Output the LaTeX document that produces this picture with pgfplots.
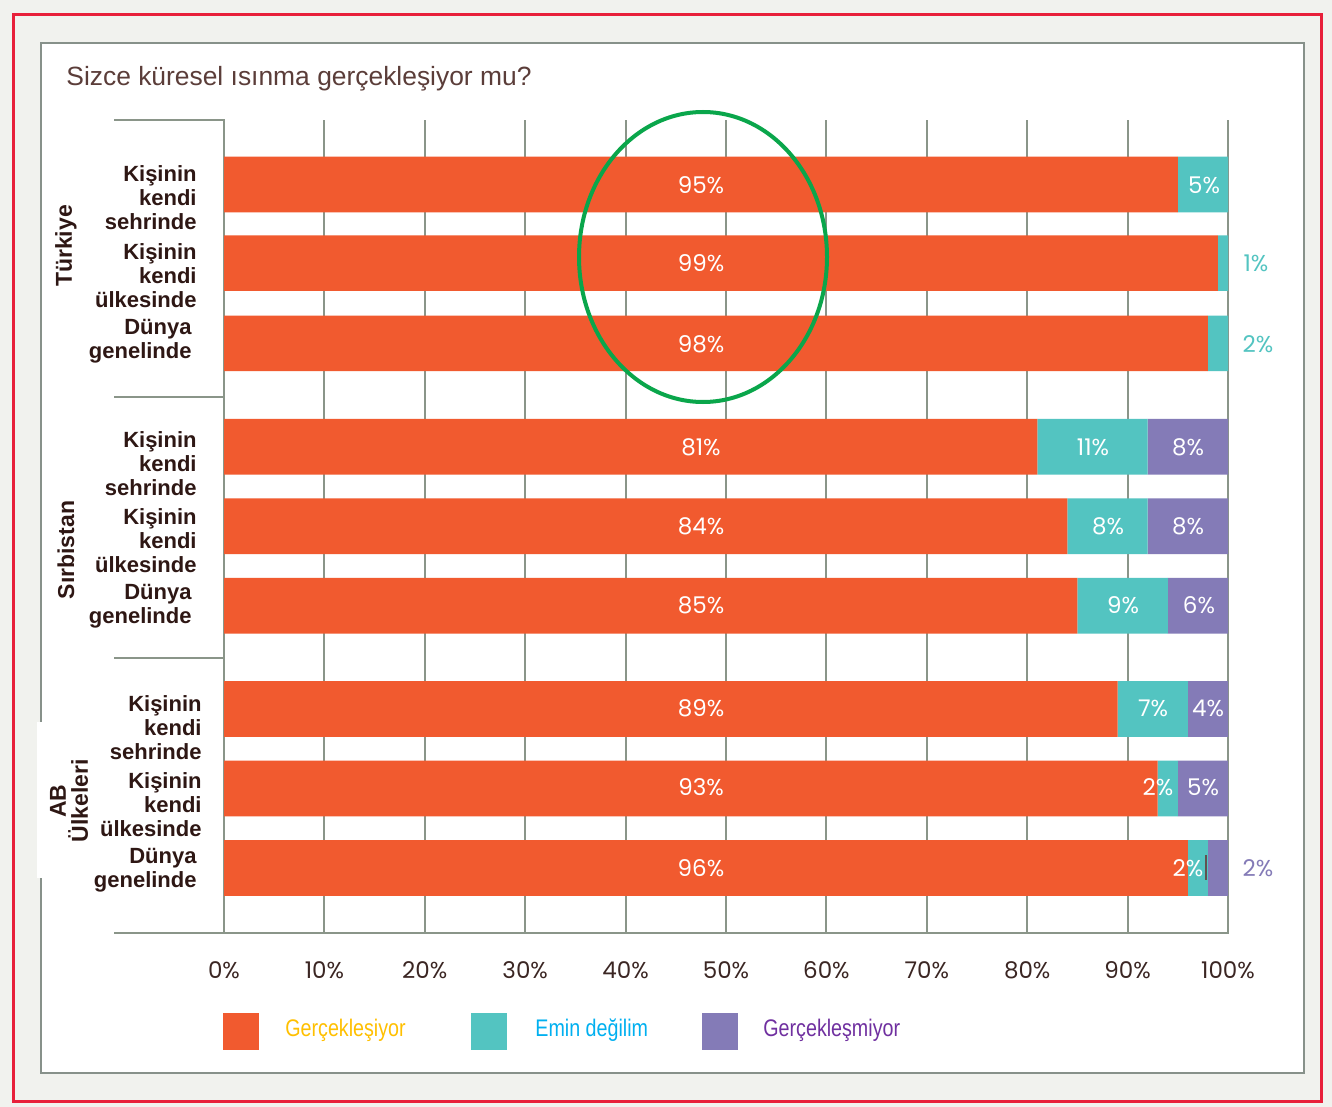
\documentclass[border=0pt]{standalone}
\usepackage{pgfplots}
\pgfplotsset{compat=1.18}
\usepackage{pgfplotstable}
\usepackage{fontspec}
\setmainfont{Liberation Sans}
\newfontfamily\pop{Poppins}
\newfontfamily\narrow[FakeStretch=0.82]{Liberation Sans}

\definecolor{cOr}{HTML}{F15A2F}
\definecolor{cCy}{HTML}{53C4C1}
\definecolor{cPu}{HTML}{847BB7}
\definecolor{cGrid}{HTML}{8A9589}
\definecolor{cBord}{HTML}{87918A}
\definecolor{cRed}{HTML}{E8203A}
\definecolor{cBg}{HTML}{F1F2EE}
\definecolor{cDark}{HTML}{2E1714}
\definecolor{cTitle}{HTML}{5B3D39}
\definecolor{cTick}{HTML}{3B2623}
\definecolor{cGreen}{HTML}{0AA64B}
\definecolor{lGold}{HTML}{FFC000}
\definecolor{lBlue}{HTML}{00B0F0}
\definecolor{lPur}{HTML}{7030A0}

\pgfplotstableread{
y      a   b   c
0      95  5   0
-0.99  99  1   0
-2.0   98  2   0
-3.3   81  11  8
-4.3   84  8   8
-5.3   85  9   6
-6.6   89  7   4
-7.6   93  2   5
-8.6   96  2   2
}\data

\begin{document}
\begin{tikzpicture}
\begin{scope}[x=0.5pt,y=-0.5pt]
\useasboundingbox (0,0) rectangle (1332,1107);
\fill[cBg] (0,0) rectangle (1332,1107);
\draw[cRed, line width=1.5pt] (13,15) rectangle (1321,1101);
\draw[cBord, fill=white, line width=1.3pt] (41,43) rectangle (1304,1073);
\fill[white] (37,722) rectangle (100,878);
\end{scope}

\begin{axis}[
  at={(112pt,-466.5pt)}, anchor=south west,
  scale only axis, width=502pt, height=406.5pt,
  xbar stacked, bar width=0.7,
  xmin=0, xmax=100, ymin=-9.418, ymax=0.811,
  xtick={0,10,...,100},
  xticklabel={\pgfmathprintnumber{\tick}\%},
  /pgf/number format/assume math mode=true,
  xticklabel style={anchor=center, yshift=-18.5pt, font=\pop\fontsize{11.5}{12}\selectfont, text=cTick},
  ytick=\empty,
  xmajorgrids, grid style={draw=cGrid, line width=1pt},
  axis line style={draw=none}, major tick length=0pt,
  clip=false,
]
\addplot[fill=cOr, draw=none] table[x=a, y=y] {\data};
\addplot[fill=cCy, draw=none] table[x=b, y=y] {\data};
\addplot[fill=cPu, draw=none] table[x=c, y=y] {\data};
\end{axis}

\begin{scope}[x=0.5pt,y=-0.5pt]
% axis frame lines
\draw[cGrid, line width=1.2pt] (114,933) -- (1229,933);
\foreach \yy in {120,397,658} \draw[cGrid, line width=1.2pt] (114,\yy) -- (225,\yy);
% title
\node[anchor=base west, inner sep=0pt, font=\fontsize{13.2}{14}\selectfont, text=cTitle] at (66,86) {Sizce küresel ısınma gerçekleşiyor mu?};
% category labels
\tikzset{cat/.style={anchor=east, align=right, inner sep=0pt, text=cDark, font=\bfseries\fontsize{11}{12}\selectfont}}
\node[cat] at (197,198) {Kişinin\\kendi\\sehrinde};
\node[cat] at (197,276) {Kişinin\\kendi\\ülkesinde};
\node[cat] at (192,341) {Dünya\\genelinde};
\node[cat] at (197,464) {Kişinin\\kendi\\sehrinde};
\node[cat] at (197,541) {Kişinin\\kendi\\ülkesinde};
\node[cat] at (192,606) {Dünya\\genelinde};
\node[cat] at (202,728) {Kişinin\\kendi\\sehrinde};
\node[cat] at (202,805) {Kişinin\\kendi\\ülkesinde};
\node[cat] at (197,870) {Dünya\\genelinde};
% group labels
\tikzset{grp/.style={rotate=90, align=center, inner sep=0pt, text=cDark, font=\bfseries\fontsize{11.5}{11}\selectfont}}
\node[grp] at (66,246) {Türkiye};
\node[grp] at (66,550) {Sırbistan};
\node[grp] at (69,801) {AB\\Ülkeleri};
% value labels
\tikzset{vl/.style={inner sep=0pt, text=white, font=\pop\fontsize{11.5}{12}\selectfont}}
\node[vl] at (701,185) {95\%};
\node[vl] at (1204,185) {5\%};
\node[vl] at (701,263) {99\%};
\node[vl, text=cCy] at (1256,263) {1\%};
\node[vl] at (701,344) {98\%};
\node[vl, text=cCy] at (1258,344) {2\%};
\node[vl] at (701,447) {81\%};
\node[vl] at (1093,447) {11\%};
\node[vl] at (1188,447) {8\%};
\node[vl] at (701,526) {84\%};
\node[vl] at (1108,526) {8\%};
\node[vl] at (1188,526) {8\%};
\node[vl] at (701,605) {85\%};
\node[vl] at (1123,605) {9\%};
\node[vl] at (1199,605) {6\%};
\node[vl] at (701,708) {89\%};
\node[vl] at (1153,708) {7\%};
\node[vl] at (1208,708) {4\%};
\node[vl] at (701,787) {93\%};
\node[vl] at (1158,787) {2\%};
\node[vl] at (1203,787) {5\%};
\node[vl] at (701,868) {96\%};
\node[vl] at (1188,868) {2\%};
\node[vl, text=cPu] at (1258,868) {2\%};
\draw[cTick!80, line width=0.6pt] (1206,855) -- (1206,880);
% green ellipse
\draw[cGreen, line width=2pt] (703,257) ellipse [x radius=124, y radius=145];
% legend
\fill[cOr] (223,1013) rectangle (259,1050);
\fill[cCy] (471,1013) rectangle (507,1050);
\fill[cPu] (702,1013) rectangle (738,1050);
\tikzset{lg/.style={anchor=west, inner sep=0pt, font=\narrow\fontsize{12}{12}\selectfont}}
\node[lg, text=lGold] at (285,1030) {Gerçekleşiyor};
\node[lg, text=lBlue] at (535,1030) {Emin değilim};
\node[lg, text=lPur] at (763,1030) {Gerçekleşmiyor};
\end{scope}
\end{tikzpicture}
\end{document}
